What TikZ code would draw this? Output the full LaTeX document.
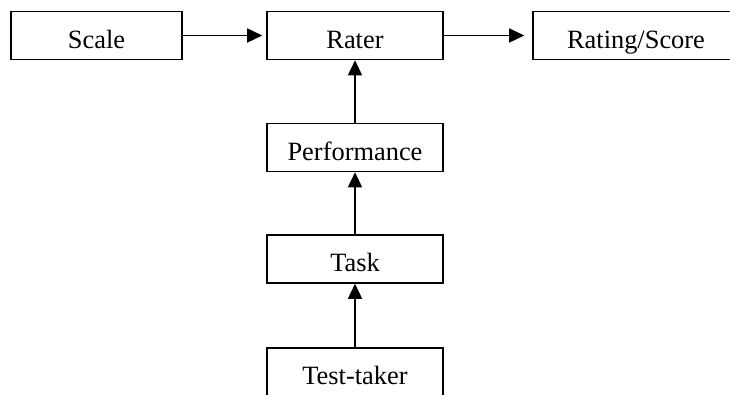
\documentclass[tikz,border=0pt]{standalone}
\usepackage{fontspec}
\setmainfont{Liberation Serif}
\usetikzlibrary{arrows.meta}

\tikzset{
	box/.style = {draw, line width = 0.8pt, inner sep = 0pt, minimum height = 24pt,
		text height = 12.7pt, text depth = 0pt, font = \fontsize{13.2}{15}\selectfont},
	flow/.style = {line width = 0.8pt, -{Triangle[length = 7.5pt, width = 7pt]}}
}

\begin{document}
\begin{tikzpicture}[x = 1pt, y = 1pt]
	\useasboundingbox (0,0) rectangle (365,197.5);
	\clip (0,0) rectangle (365,197.5);
	% top row
	\node[box, minimum width = 85.5pt] (scale) at (48.25,179.75) {Scale};
	\node[box, minimum width = 88pt] (rater) at (177.5,179.75) {Rater};
	\node[box, minimum width = 103pt] (score) at (318,179.75) {Rating/Score};
	% column under the rater
	\node[box, minimum width = 88pt] (perf) at (177.5,123.75) {Performance};
	\node[box, minimum width = 88pt] (task) at (177.5,68) {Task};
	\node[box, minimum width = 88pt] (taker) at (177.5,11.5) {Test-taker};
	\draw[flow, shorten > = 2pt] (scale) -- (rater);
	\draw[flow, shorten > = 4pt] (rater) -- (score);
	\draw[flow] (perf) -- (rater);
	\draw[flow] (task) -- (perf);
	\draw[flow] (taker) -- (task);
\end{tikzpicture}
\end{document}
